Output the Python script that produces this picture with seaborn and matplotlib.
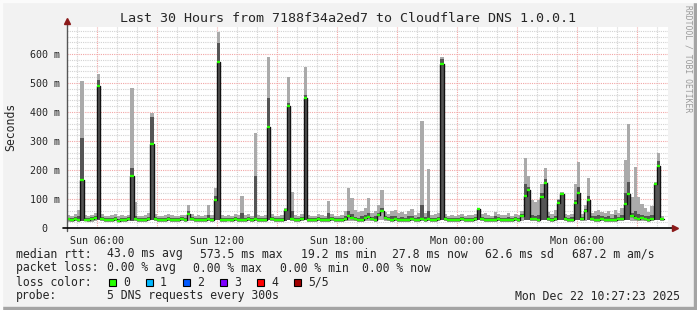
import numpy as np
import pandas as pd
import matplotlib
matplotlib.use("Agg")
import matplotlib.pyplot as plt
import seaborn as sns
from matplotlib.patches import Rectangle

# ---------------- data ----------------
title = "Last 30 Hours from 7188f34a2ed7 to Cloudflare DNS 1.0.0.1"
start_hour = 4.5          # Sun 04:30 (hours since Sun 00:00)
bin_hours = 1.0 / 6.0     # 10-minute bins

median_ms = [
    30, 27, 31, 28, 165, 29, 26, 30, 33, 490,
    31, 27, 26, 29, 30, 25, 28, 27, 30, 180,
    31, 26, 27, 29, 32, 291, 30, 27, 26, 28,
    31, 29, 26, 27, 30, 28, 48, 30, 27, 29,
    26, 28, 31, 29, 97, 573, 28, 26, 29, 27,
    30, 28, 26, 29, 31, 27, 30, 28, 26, 29,
    349, 31, 27, 26, 29, 62, 422, 30, 28, 27,
    30, 449, 29, 26, 27, 31, 28, 26, 29, 30,
    27, 26, 29, 31, 42, 36, 30, 27, 28, 33,
    38, 31, 29, 44, 60, 35, 31, 28, 30, 27,
    29, 26, 28, 30, 27, 29, 31, 28, 30, 27,
    29, 32, 565, 30, 27, 29, 26, 28, 30, 27,
    29, 28, 31, 65, 30, 27, 28, 26, 29, 30,
    27, 29, 28, 26, 30, 27, 40, 111, 131, 30,
    31, 29, 108, 154, 32, 28, 30, 87, 117, 30,
    28, 29, 87, 120, 30, 60, 96, 32, 29, 27,
    30, 28, 26, 29, 27, 30, 32, 84, 116, 40,
    33, 30, 35, 32, 29, 31, 152, 215, 30,
]
dark_ms = [
    36, 34, 38, 40, 310, 36, 33, 37, 40, 510,
    38, 35, 33, 36, 38, 32, 35, 34, 37, 207,
    40, 33, 35, 36, 39, 384, 37, 34, 33, 35,
    38, 36, 33, 34, 37, 35, 60, 37, 34, 36,
    33, 35, 45, 36, 110, 639, 35, 33, 36, 34,
    37, 35, 50, 36, 38, 34, 179, 35, 33, 36,
    448, 38, 34, 33, 36, 65, 430, 60, 35, 34,
    37, 460, 36, 33, 34, 38, 35, 33, 50, 37,
    34, 33, 36, 40, 60, 48, 38, 36, 40, 45,
    50, 38, 40, 52, 70, 42, 38, 40, 42, 36,
    38, 34, 40, 42, 34, 37, 80, 38, 60, 35,
    36, 38, 583, 37, 34, 36, 33, 35, 37, 34,
    36, 35, 38, 68, 37, 36, 35, 33, 40, 37,
    34, 36, 38, 33, 37, 35, 48, 150, 140, 45,
    42, 45, 120, 170, 40, 36, 40, 95, 120, 37,
    35, 38, 95, 140, 37, 65, 110, 40, 42, 45,
    40, 38, 42, 36, 44, 38, 45, 120, 160, 50,
    60, 48, 45, 42, 40, 45, 155, 230, 33,
]
max_ms = [
    45, 42, 48, 62, 507, 44, 41, 46, 50, 531,
    47, 43, 40, 45, 48, 41, 44, 42, 46, 483,
    91, 42, 43, 45, 50, 397, 47, 43, 41, 44,
    48, 45, 42, 43, 46, 44, 79, 47, 43, 45,
    42, 44, 79, 46, 138, 676, 44, 42, 46, 43,
    47, 44, 110, 45, 48, 43, 327, 44, 42, 46,
    590, 48, 43, 42, 46, 70, 520, 124, 45, 43,
    47, 554, 45, 42, 43, 48, 44, 42, 94, 47,
    43, 42, 46, 60, 138, 105, 62, 55, 60, 70,
    103, 50, 60, 80, 131, 55, 48, 58, 62, 50,
    55, 48, 60, 64, 45, 50, 370, 52, 203, 46,
    48, 50, 590, 47, 43, 46, 42, 44, 48, 43,
    46, 44, 48, 70, 47, 52, 45, 42, 55, 48,
    44, 46, 50, 42, 47, 44, 60, 240, 180, 96,
    90, 96, 150, 206, 55, 48, 62, 100, 125, 47,
    45, 48, 150, 229, 47, 80, 173, 50, 58, 62,
    55, 52, 60, 48, 62, 50, 70, 234, 359, 108,
    211, 108, 83, 70, 55, 75, 160, 260, 40,
]
min_ms = [
    22, 21, 24, 22, 24, 23, 20, 22, 25, 26,
    23, 21, 20, 22, 24, 19, 22, 21, 23, 25,
    24, 20, 21, 22, 25, 26, 23, 21, 20, 22,
    24, 22, 20, 21, 23, 22, 25, 23, 21, 22,
    20, 22, 24, 22, 26, 27, 22, 20, 23, 21,
    23, 22, 20, 22, 24, 21, 23, 22, 20, 22,
    26, 24, 21, 20, 22, 25, 27, 23, 22, 21,
    23, 26, 22, 20, 21, 24, 22, 20, 22, 23,
    21, 20, 22, 24, 25, 24, 23, 21, 22, 24,
    25, 24, 22, 26, 27, 24, 23, 21, 23, 21,
    22, 20, 22, 23, 21, 22, 24, 21, 23, 21,
    22, 24, 27, 23, 21, 22, 20, 22, 23, 21,
    22, 21, 24, 26, 23, 21, 22, 20, 22, 23,
    21, 22, 22, 20, 23, 21, 25, 27, 28, 23,
    24, 22, 26, 28, 24, 22, 23, 26, 27, 23,
    22, 22, 26, 27, 23, 25, 27, 24, 22, 21,
    23, 22, 20, 22, 21, 23, 24, 26, 27, 25,
    24, 23, 25, 24, 22, 24, 27, 28, 23,
]

ytick_vals = [0, 100, 200, 300, 400, 500, 600]
ytick_labels = ["0  ", "100 m", "200 m", "300 m", "400 m", "500 m", "600 m"]
xtick_hours = [6, 12, 18, 24, 30]
xtick_labels = ["Sun 06:00", "Sun 12:00", "Sun 18:00", "Mon 00:00", "Mon 06:00"]

legend_rows = [
    ["median rtt:", "43.0 ms avg", "573.5 ms max", "19.2 ms min",
     "27.8 ms now", "62.6 ms sd", "687.2 m am/s"],
    ["packet loss:", "0.00 % avg", "0.00 % max", "0.00 % min", "0.00 % now"],
]
loss_labels = ["0", "1", "2", "3", "4", "5/5"]
loss_colors = ["#26ff00", "#00b8ff", "#0059ff", "#7e00ff", "#ff0000", "#a10000"]
probe_text = "5 DNS requests every 300s"
stamp_text = "Mon Dec 22 10:27:23 2025"
side_text = "RRDTOOL / TOBI OETIKER"

# ---------------- style ----------------
sns.set_style("white")
plt.rcParams["font.family"] = ["DejaVu Sans Mono"]
MONO = "DejaVu Sans Mono"

W, H = 697, 310
BG = "#f2f2f2"
fig = plt.figure(figsize=(W / 100, H / 100), dpi=100, facecolor=BG)


def fx(x):
    return x / W


def fy(y):
    return 1 - y / H


# frame (3D look)
fig.patches.append(Rectangle((0, 0), 1, fy(307), transform=fig.transFigure,
                             color="#a4a4a4", zorder=0))
fig.patches.append(Rectangle((fx(694), 0), fx(3), 1, transform=fig.transFigure,
                             color="#a4a4a4", zorder=0))
fig.patches.append(Rectangle((0, fy(2)), 1, fy(0) - fy(2), transform=fig.transFigure,
                             color="#fbfbfb", zorder=0))
fig.patches.append(Rectangle((0, 0), fx(2), 1, transform=fig.transFigure,
                             color="#fbfbfb", zorder=0))

x0, x1, ytop, ybot = 67, 668, 27, 228
ax = fig.add_axes([fx(x0), fy(ybot), fx(x1 - x0), fy(ytop) - fy(ybot)])
ax.set_facecolor("white")

n = len(median_ms)
t = start_hour + np.arange(n) * bin_hours
df = pd.DataFrame({"t": t, "med": median_ms, "dk": dark_ms,
                   "hi": max_ms, "lo": min_ms})
last = df.iloc[[-1]].copy()
last["t"] = last["t"] + bin_hours
dfe = pd.concat([df, last], ignore_index=True)
# dense dark smoke reaches down to the minimum only where the median is lifted
dark_floor = np.where(dfe["med"] > 60, dfe["lo"], dfe["med"])

x_end = start_hour + (x1 - x0) / 20.0
ax.set_xlim(start_hour, x_end)
ax.set_ylim(0, 693)

# grid
minor_col = "#d2d2d2"
major_col = "#f2a6a6"
dots = (0, (1, 1))
for v in range(20, 693, 20):
    if v % 100:
        ax.axhline(v, color=minor_col, lw=0.8, ls=dots, zorder=0.5)
for v in ytick_vals[1:]:
    ax.axhline(v, color=major_col, lw=0.8, ls=dots, zorder=0.6)
for h in range(5, 35):
    if h % 3:
        ax.axvline(h, color=minor_col, lw=0.8, ls=dots, zorder=0.5)
for h in range(6, 35, 3):
    ax.axvline(h, color=major_col, lw=0.8, ls=dots, zorder=0.6)

# smoke
ax.fill_between(dfe["t"], dfe["lo"], dfe["hi"], step="post",
                color="#aaaaaa", lw=0, zorder=1)
ax.fill_between(dfe["t"], dark_floor, dfe["dk"], step="post",
                color="#555555", lw=0, zorder=1.1)
# median line
sns.lineplot(data=dfe, x="t", y="med", drawstyle="steps-post", color="#111111",
             lw=1.0, estimator=None, ax=ax, zorder=2)
ax.hlines(df["med"], df["t"], df["t"] + bin_hours, colors=loss_colors[0],
          lw=1.7, zorder=3)

# axes
for s in ["top", "right", "left", "bottom"]:
    ax.spines[s].set_visible(False)
ax.plot([0, 0], [-0.015, 1.025], transform=ax.transAxes, color="#555555",
        lw=1.0, clip_on=False, zorder=4)
ax.plot([-0.006, 1.0075], [0, 0], transform=ax.transAxes, color="black",
        lw=1.2, clip_on=False, zorder=4)
ax.plot([0], [1.03], marker="^", ms=5, color="#8b1a1a", transform=ax.transAxes,
        clip_on=False, zorder=5)
ax.plot([1.0115], [0], marker=">", ms=5, color="#8b1a1a", transform=ax.transAxes,
        clip_on=False, zorder=5)

ax.set_yticks(ytick_vals)
ax.set_yticklabels(ytick_labels, fontsize=7.2, family=MONO)
ax.set_yticks([v for v in range(20, 693, 20) if v % 100], minor=True)
major_x = list(range(6, 35, 3))
ax.set_xticks(major_x)
ax.set_xticklabels([xtick_labels[xtick_hours.index(h)] if h in xtick_hours else ""
                    for h in major_x], fontsize=7.2, family=MONO)
ax.set_xticks([h for h in range(5, 35) if h % 3], minor=True)
ax.tick_params(axis="both", which="major", direction="out", length=2.5, width=0.8,
               color=major_col, pad=2.5)
ax.tick_params(axis="both", which="minor", direction="out", length=2.5, width=0.8,
               color=minor_col)
ax.tick_params(axis="x", which="major", pad=3)
ax.set_xlabel("")
ax.set_ylabel("")

# texts
fig.text(fx(348), fy(19), title, ha="center", va="center", fontsize=9.6, family=MONO)
fig.text(fx(11), fy(127), "Seconds", rotation=90, ha="center", va="center",
         fontsize=8.3, family=MONO)
fig.text(fx(688), fy(5), side_text, rotation=-90, ha="center", va="top",
         fontsize=5.8, family=MONO, color="#9a9a9a")

row_y = [254, 268, 282, 296]
row1_x = [16, 107, 200, 301, 392, 485, 572]
row2_x = [16, 107, 193, 280, 362]
for txt, xx in zip(legend_rows[0], row1_x):
    fig.text(fx(xx), fy(row_y[0]), txt, ha="left", va="center", fontsize=8.3, family=MONO)
for txt, xx in zip(legend_rows[1], row2_x):
    fig.text(fx(xx), fy(row_y[1]), txt, ha="left", va="center", fontsize=8.3, family=MONO)
fig.text(fx(16), fy(row_y[2]), "loss color:", ha="left", va="center", fontsize=8.3, family=MONO)
for i, (lab, col) in enumerate(zip(loss_labels, loss_colors)):
    bx = 109 + 37 * i
    fig.patches.append(Rectangle((fx(bx), fy(286)), fx(7), fy(278.5) - fy(286),
                                 transform=fig.transFigure, facecolor=col,
                                 edgecolor="black", lw=0.8, zorder=2))
    fig.text(fx(bx + 14), fy(row_y[2]), lab, ha="left", va="center", fontsize=8.3, family=MONO)
fig.text(fx(16), fy(row_y[3]), "probe:", ha="left", va="center", fontsize=8.3, family=MONO)
fig.text(fx(107), fy(row_y[3]), probe_text, ha="left", va="center", fontsize=8.3, family=MONO)
fig.text(fx(680), fy(row_y[3]), stamp_text, ha="right", va="center", fontsize=8.3, family=MONO)

fig.savefig("out.png", dpi=100, facecolor=BG)
